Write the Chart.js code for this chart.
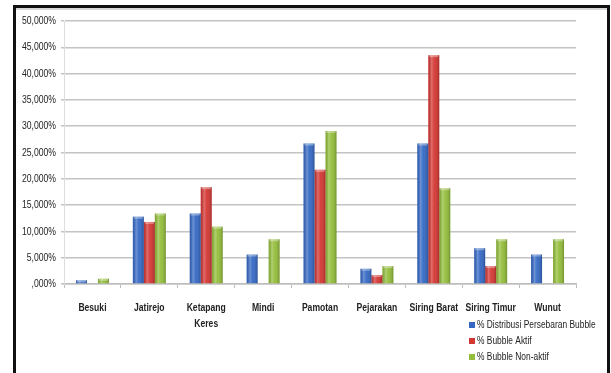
<!DOCTYPE html>
<html>
<head>
<meta charset="utf-8">
<script src="https://cdn.jsdelivr.net/npm/chart.js@4/dist/chart.umd.min.js"></script>
<style>
  html, body { margin: 0; padding: 0; background: #fff; }
  #wrap { position: relative; width: 611px; height: 373px; overflow: hidden; }
  #frame {
    position: absolute; left: 13px; top: 5px; width: 591px; height: 400px;
    border: 3px solid #111; box-sizing: content-box;
  }
  #frame::after {
    content: ""; position: absolute; left: 0; right: 0; top: 0; height: 2px; background: #d8d8d8;
  }
  canvas { position: absolute; left: 0; top: 0; }
</style>
</head>
<body>
<div id="wrap">
  <div id="frame"></div>
  <canvas id="c" width="611" height="373"></canvas>
</div>
<script>
// Desa / kategori
const categories = ['Besuki', 'Jatirejo', ['Ketapang', 'Keres'], 'Mindi', 'Pamotan', 'Pejarakan', 'Siring Barat', 'Siring Timur', 'Wunut'];

// Persentase tiap seri (%)
const distribusi = [0.7, 12.8, 13.4, 5.6, 26.7, 2.9, 26.7, 6.8, 5.6];
const aktif      = [0.0, 11.8, 18.4, 0.0, 21.7, 1.7, 43.5, 3.4, 0.0];
const nonAktif   = [1.0, 13.4, 10.9, 8.5, 29.1, 3.4, 18.2, 8.5, 8.5];

const seriesNames = ['% Distribusi Persebaran Bubble', '% Bubble Aktif', '% Bubble Non-aktif'];
const seriesColors = ['#3468c4', '#d43632', '#93bd3a'];

const yTicks = [0, 5, 10, 15, 20, 25, 30, 35, 40, 45, 50];

const FONT = "'Liberation Sans', Arial, sans-serif";

function fmtPct(v) {
  const s = v.toFixed(3).replace('.', ',');
  return (v === 0 ? s.replace(/^0/, '') : s) + '%';
}

// Draw text squeezed horizontally (narrow look)
function narrowText(ctx, text, x, y, align, sx) {
  ctx.save();
  ctx.translate(x, y);
  ctx.scale(sx, 1);
  ctx.textAlign = align;
  ctx.fillText(text, 0, 0);
  ctx.restore();
}

// Light cylinder shading on each bar
const barShade = {
  id: 'barShade',
  afterDatasetsDraw(chart) {
    const ctx = chart.ctx;
    chart.data.datasets.forEach((ds, i) => {
      const meta = chart.getDatasetMeta(i);
      meta.data.forEach(bar => {
        const h = bar.base - bar.y;
        if (h <= 0.5) return;
        const x0 = bar.x - bar.width / 2;
        const g = ctx.createLinearGradient(x0, 0, x0 + bar.width, 0);
        g.addColorStop(0, 'rgba(0,0,0,0.10)');
        g.addColorStop(0.3, 'rgba(255,255,255,0.28)');
        g.addColorStop(0.55, 'rgba(255,255,255,0.05)');
        g.addColorStop(1, 'rgba(0,0,0,0.22)');
        ctx.save();
        ctx.fillStyle = g;
        ctx.fillRect(x0, bar.y, bar.width, h);
        ctx.fillStyle = 'rgba(255,255,255,0.35)';
        ctx.fillRect(x0 + 1, bar.y, bar.width - 2, Math.min(2, h));
        ctx.restore();
      });
    });
  }
};

// Axis labels and vertical legend in narrow lettering
const narrowLabels = {
  id: 'narrowLabels',
  afterDraw(chart) {
    const ctx = chart.ctx;
    const xs = chart.scales.x, ys = chart.scales.y;
    ctx.save();
    ctx.fillStyle = '#222';
    ctx.textBaseline = 'middle';

    ctx.font = '11.5px ' + FONT;
    yTicks.forEach(v => {
      narrowText(ctx, fmtPct(v), ys.right - 8, ys.getPixelForValue(v), 'right', 0.75);
    });

    ctx.font = 'bold 11px ' + FONT;
    chart.data.labels.forEach((lab, i) => {
      const lines = Array.isArray(lab) ? lab : [lab];
      const cx = xs.getPixelForValue(i);
      lines.forEach((ln, k) => {
        narrowText(ctx, ln, cx, xs.top + 24 + k * 16, 'center', 0.78);
      });
    });

    ctx.font = '10.5px ' + FONT;
    chart.data.datasets.forEach((ds, i) => {
      const y = 325 + i * 16;
      ctx.fillStyle = ds.backgroundColor;
      ctx.fillRect(469, y - 3, 6, 6);
      ctx.fillStyle = '#222';
      narrowText(ctx, ds.label, 477, y, 'left', 0.8);
    });
    ctx.restore();
  }
};

new Chart(document.getElementById('c'), {
  type: 'bar',
  data: {
    labels: categories,
    datasets: [
      { label: seriesNames[0], data: distribusi, backgroundColor: seriesColors[0] },
      { label: seriesNames[1], data: aktif, backgroundColor: seriesColors[1] },
      { label: seriesNames[2], data: nonAktif, backgroundColor: seriesColors[2] }
    ]
  },
  options: {
    responsive: false,
    animation: false,
    devicePixelRatio: 1,
    layout: { padding: { top: 21, right: 35, bottom: 39, left: 0 } },
    datasets: { bar: { categoryPercentage: 0.58, barPercentage: 1.0, borderWidth: 0 } },
    plugins: { legend: { display: false }, tooltip: { enabled: false } },
    scales: {
      x: {
        grid: { offset: true, drawOnChartArea: false, tickLength: 4, color: '#bdbdbd', lineWidth: 1 },
        border: { color: '#bdbdbd', width: 1.5 },
        ticks: { display: false },
        afterFit(s) { s.height = 50; }
      },
      y: {
        min: 0, max: 50,
        afterBuildTicks(s) { s.ticks = yTicks.map(v => ({ value: v })); },
        grid: { color: '#c4c4c4', lineWidth: 1.5, tickLength: 3 },
        border: { color: '#dedede', width: 1 },
        ticks: { display: false },
        afterFit(s) { s.width = 64; }
      }
    }
  },
  plugins: [barShade, narrowLabels]
});
</script>
</body>
</html>
